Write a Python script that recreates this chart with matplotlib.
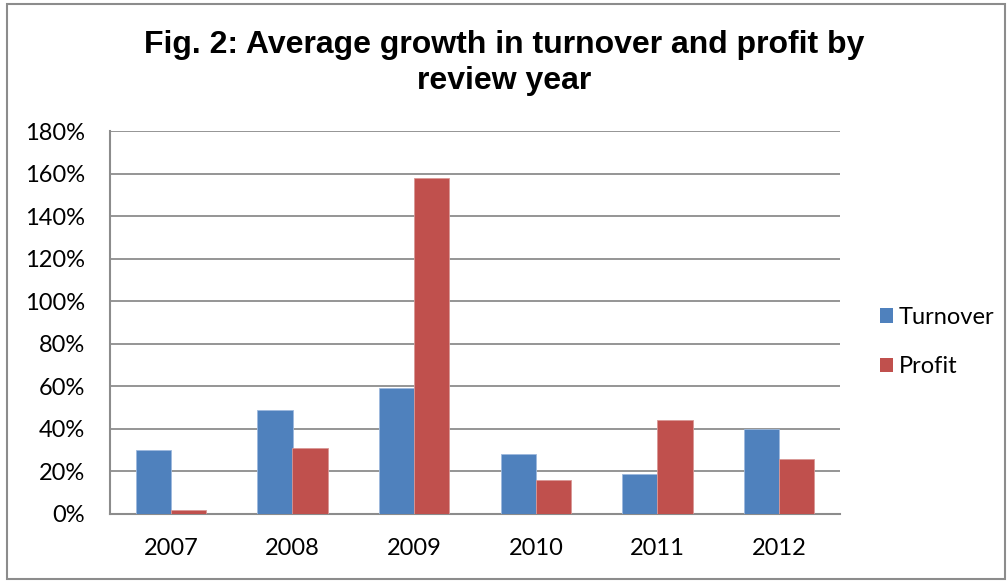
import matplotlib
matplotlib.use("Agg")
import matplotlib.pyplot as plt
from matplotlib.patches import Rectangle, Patch
import numpy as np

years = ["2007", "2008", "2009", "2010", "2011", "2012"]
turnover = [30, 49, 59, 28, 19, 40]
profit = [2, 31, 158, 16, 44, 26]
yticks = [0, 20, 40, 60, 80, 100, 120, 140, 160, 180]

blue = "#4F81BD"
red = "#C0504D"
grid_gray = "#8C8C8C"
label_size = 17

fig = plt.figure(figsize=(10.08, 5.81), dpi=100)
fig.patch.set_facecolor("white")

# outer chart frame
fig.add_artist(Rectangle((7 / 1008, 2 / 581), 998 / 1008, 575 / 581,
                         transform=fig.transFigure, fill=False,
                         edgecolor="#8C8C8C", linewidth=1.5))

ax = fig.add_axes([110 / 1008, (581 - 514) / 581, 730 / 1008, 383 / 581])
x = np.arange(len(years))
w = 0.288
ax.bar(x - w / 2, turnover, width=w, color=blue, edgecolor="#9DB9DD",
       linewidth=0.6, zorder=3, label="Turnover")
ax.bar(x + w / 2, profit, width=w, color=red, edgecolor="#D99795",
       linewidth=0.6, zorder=3, label="Profit")

ax.set_xlim(-0.5, len(years) - 0.5)
ax.set_ylim(0, 180)
ax.set_yticks(yticks)
ax.set_yticklabels([f"{v}%" for v in yticks], fontsize=label_size, family="Lato")
ax.set_xticks(x)
ax.set_xticklabels(years, fontsize=label_size, family="Lato")
ax.tick_params(length=0, colors="black")
ax.tick_params(axis="x", pad=17)
ax.tick_params(axis="y", pad=18)

ax.yaxis.grid(True, color=grid_gray, linewidth=1.3, zorder=0)
ax.set_axisbelow(True)
for s in ["top", "right"]:
    ax.spines[s].set_visible(False)
for s in ["left", "bottom"]:
    ax.spines[s].set_color(grid_gray)
    ax.spines[s].set_linewidth(1.5)

fig.text(0.5, 1 - 63 / 581, "Fig. 2: Average growth in turnover and profit by\nreview year",
         ha="center", va="center", fontsize=23, fontweight="bold",
         family="Liberation Sans", linespacing=1.28)

handles = [Patch(facecolor=blue, edgecolor="none"), Patch(facecolor=red, edgecolor="none")]
fig.legend(handles, ["Turnover", "Profit"], loc="center left",
           bbox_to_anchor=(880 / 1008, (581 - 342) / 581), frameon=False,
           prop={"family": "Lato", "size": label_size}, handlelength=0.55,
           handleheight=0.55, handletextpad=0.25, labelspacing=1.2,
           borderpad=0, borderaxespad=0)

fig.savefig("out.png", dpi=100, facecolor="white")
